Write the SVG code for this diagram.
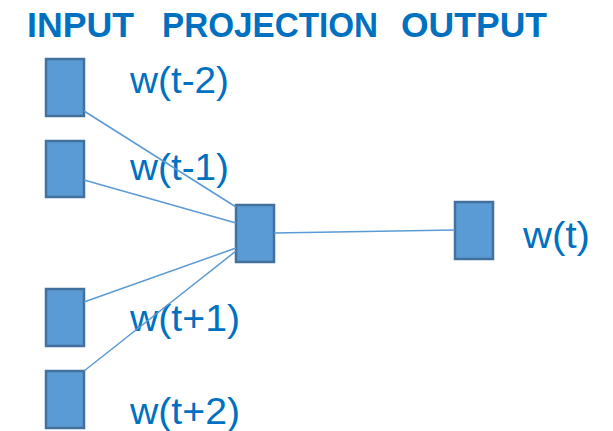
<svg xmlns="http://www.w3.org/2000/svg" width="613" height="431" viewBox="0 0 613 431">
  <style>
    .box { fill: #5B9BD5; stroke: #41719C; stroke-width: 2.5; }
    .edge { stroke: #5B9BD5; stroke-width: 1.5; fill: none; }
    .title { font-family: "Liberation Sans", Arial, sans-serif; font-weight: bold; font-size: 35px; fill: #0070C0; }
    .label { font-family: "Liberation Sans", Arial, sans-serif; font-size: 37px; fill: #0070C0; }
  </style>
  <rect width="613" height="431" fill="#FFFFFF"/>

  <!-- column headings -->
  <g id="headings">
    <text class="title" x="27" y="37" textLength="107" lengthAdjust="spacingAndGlyphs">INPUT</text>
    <text class="title" x="162" y="37" textLength="216" lengthAdjust="spacingAndGlyphs">PROJECTION</text>
    <text class="title" x="401" y="37" textLength="146" lengthAdjust="spacingAndGlyphs">OUTPUT</text>
  </g>

  <!-- context words -->
  <g id="in-t-2">
    <rect class="box" x="46" y="59" width="38" height="57"/>
    <text class="label" x="130" y="93" textLength="99" lengthAdjust="spacingAndGlyphs">w(t-2)</text>
  </g>
  <g id="in-t-1">
    <rect class="box" x="46" y="141" width="38" height="56"/>
    <text class="label" x="130" y="180" textLength="99" lengthAdjust="spacingAndGlyphs">w(t-1)</text>
  </g>
  <g id="in-t+1">
    <rect class="box" x="46" y="289" width="38" height="57"/>
    <text class="label" x="130" y="331" textLength="110" lengthAdjust="spacingAndGlyphs">w(t+1)</text>
  </g>
  <g id="in-t+2">
    <rect class="box" x="46" y="371" width="38" height="57"/>
    <text class="label" x="130" y="424" textLength="110" lengthAdjust="spacingAndGlyphs">w(t+2)</text>
  </g>

  <!-- projection layer -->
  <g id="projection">
    <rect class="box" x="236" y="205" width="38" height="57"/>
  </g>

  <!-- predicted word -->
  <g id="out-t">
    <rect class="box" x="455" y="202" width="38" height="57"/>
    <text class="label" x="523" y="248" textLength="67" lengthAdjust="spacingAndGlyphs">w(t)</text>
  </g>

  <!-- connectors -->
  <g id="connectors">
    <line class="edge" x1="84" y1="111" x2="236" y2="207"/>
    <line class="edge" x1="84" y1="180" x2="236" y2="223"/>
    <line class="edge" x1="84" y1="302" x2="236" y2="248"/>
    <line class="edge" x1="84" y1="371" x2="236" y2="251"/>
    <line class="edge" x1="274" y1="233" x2="455" y2="230"/>
  </g>
</svg>
